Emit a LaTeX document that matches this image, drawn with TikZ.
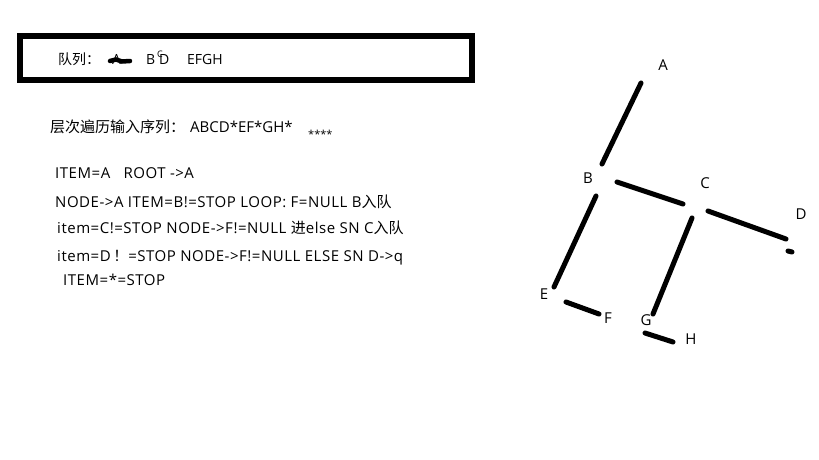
\documentclass[tikz,border=0pt]{standalone}
\usepackage{fontspec}
\setmainfont{Open Sans}
\newfontfamily\cjk{Noto Sans CJK SC}

\begin{document}
\begin{tikzpicture}[x=1pt, y=-1pt,
    txt/.style={anchor=base west, inner sep=0pt, font=\fontsize{15}{17}\selectfont},
    steptxt/.style={txt, font=\fontsize{15}{17}\selectfont\addfontfeature{LetterSpace=3.5}},
    boxtxt/.style={txt, font=\fontsize{14}{16}\selectfont},
    lbl/.style={inner sep=0pt, font=\fontsize{15}{17}\selectfont},
    stroke/.style={line width=5pt, line cap=round}]
    \useasboundingbox (0,0) rectangle (819,460);

    % Queue box
    \draw[line width=6pt] (20,36) rectangle (472,80);
    \node[boxtxt] (qlabel) at (58,65) {\cjk 队列：};
    \node[boxtxt] (qa) at (112,65) {A};
    \draw[line width=4.5pt, line cap=round] (110,61) -- (116,59.5) -- (122,61.5) -- (130,61);
    \node[boxtxt] (qb) at (146,65) {B};
    \node[boxtxt] (qd) at (159,65) {D};
    \node[lbl, font=\fontsize{9}{10}\selectfont] (qc) at (160,54) {C};
    \node[boxtxt] (qrest) at (187,65) {EFGH};

    % Input sequence
    \node[txt] (seq) at (50,132) {\cjk 层次遍历输入序列：};
    \node[txt] (seqv) at (190,132) {ABCD*EF*GH*};
    \node[txt, font=\fontsize{11}{12}\selectfont] (stars) at (308,138) {****};

    % Steps
    \node[steptxt] (l1) at (55,178) {ITEM=A\ \ \ ROOT ->A};
    \node[steptxt] (l2) at (55,207) {NODE->A ITEM=B!=STOP LOOP: F=NULL B{\cjk 入队}};
    \node[steptxt] (l3) at (57,233) {item=C!=STOP NODE->F!=NULL {\cjk 进}else SN C{\cjk 入队}};
    \node[steptxt] (l4) at (57,261) {item=D\,{\cjk ！}=STOP NODE->F!=NULL ELSE SN D->q};
    \node[steptxt] (l5) at (63,285) {ITEM=*=STOP};

    % Draw nodes
    \node[lbl] (A) at (663,65) {A};
    \node[lbl] (B) at (588,178) {B};
    \node[lbl] (C) at (705,183) {C};
    \node[lbl] (D) at (801,214) {D};
    \node[lbl] (E) at (544,294) {E};
    \node[lbl] (F) at (608,318) {F};
    \node[lbl] (G) at (646,320) {G};
    \node[lbl] (H) at (691,339) {H};

    % Draw connections
    \draw[stroke] ([shift={(-22,18)}]A.center) -- ([shift={(14,-14)}]B.center);
    \draw[stroke] ([shift={(29,4)}]B.center) -- ([shift={(-22,21)}]C.center);
    \draw[stroke] ([shift={(3,28)}]C.center) -- ([shift={(-15,25)}]D.center);
    \draw[stroke] ([shift={(-13,37)}]D.center) -- ([shift={(-9,38)}]D.center);
    \draw[stroke] ([shift={(8,18)}]B.center) -- ([shift={(10,-7)}]E.center);
    \draw[stroke] ([shift={(22,8)}]E.center) -- ([shift={(-9,-4)}]F.center);
    \draw[stroke] ([shift={(-13,35)}]C.center) -- ([shift={(7,-6)}]G.center);
    \draw[stroke] ([shift={(-1,13)}]G.center) -- ([shift={(-18,3)}]H.center);
\end{tikzpicture}
\end{document}
